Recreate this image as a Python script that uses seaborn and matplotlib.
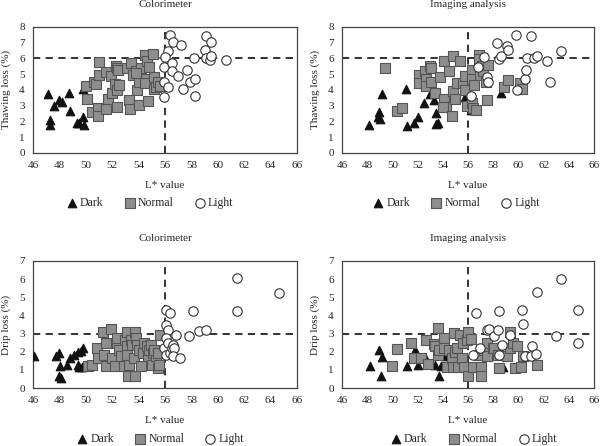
"""
Thawing loss and drip loss against L* value (colorimeter vs imaging analysis).
"""

import matplotlib
matplotlib.use("Agg")
import matplotlib.pyplot as plt
import pandas as pd
import seaborn as sns

sns.set_theme(style="white")
plt.rcParams["font.family"] = ["Liberation Serif", "DejaVu Serif"]

# --- Thawing loss, colorimeter ---
thaw_col_dark_x = [47.1, 47.3, 47.3, 47.6, 48.0, 48.2, 48.7, 48.8, 49.3, 49.5, 49.8, 49.8, 49.9]
thaw_col_dark_y = [3.72, 2.08, 1.77, 2.98, 3.36, 3.2, 3.79, 2.68, 1.87, 1.91, 2.26, 4.04, 1.77]
thaw_col_norm_x = [50.0, 50.1, 50.5, 50.65, 50.9, 50.9, 50.8, 51.0, 51.0, 51.5, 51.55, 51.7, 51.9, 52.0,
                   52.2, 52.3, 52.35, 52.4, 52.45, 52.4, 52.5, 53.1, 53.3, 53.35, 53.4, 53.6, 53.8, 53.85,
                   54.0, 54.0, 54.2, 54.5, 54.5, 54.5, 54.6, 54.7, 54.75, 55.1, 55.15, 55.2, 55.3, 55.45,
                   55.6, 53.8]
thaw_col_norm_y = [4.26, 3.43, 2.62, 4.53, 2.83, 2.34, 4.38, 4.94, 5.79, 2.79, 5.11, 3.40, 4.89, 3.79,
                   4.38, 5.53, 5.36, 2.94, 5.23, 4.0, 4.32, 5.36, 3.36, 2.79, 5.70, 4.96, 5.21, 4.0,
                   3.02, 4.47, 5.38, 6.23, 4.72, 4.43, 5.85, 3.28, 5.47, 6.30, 4.04, 4.79, 4.17, 4.53,
                   4.26, 5.06]
thaw_col_light_x = [56.4, 56.6, 57.2, 56.2, 56.0, 55.9, 56.5, 56.5, 57.0, 57.65, 55.9, 56.2, 57.4,
                    57.9, 58.3, 58.3, 55.9, 58.2, 59.1, 59.5, 59.0, 59.1, 59.4, 59.5, 60.65]
thaw_col_light_y = [7.45, 7.02, 6.83, 6.45, 6.09, 5.43, 5.70, 5.21, 4.85, 5.28, 4.53, 4.21, 4.04,
                    4.47, 4.70, 3.64, 3.57, 6.02, 7.40, 7.02, 6.51, 6.02, 5.91, 6.17, 5.87]

# --- Thawing loss, imaging analysis ---
thaw_img_dark_x = [48.11, 48.85, 48.96, 49.03, 49.17, 51.09, 51.15, 51.75, 52.07, 52.54, 52.99, 53.31,
                   53.47, 53.47, 53.65, 55.76, 56.21, 58.61]
thaw_img_dark_y = [1.77, 2.30, 2.62, 2.15, 3.72, 4.04, 1.70, 1.87, 2.26, 3.15, 3.72, 3.36,
                   2.51, 1.81, 1.87, 3.57, 2.72, 3.83]
thaw_img_norm_x = [49.4, 50.35, 50.8, 52.1, 52.1, 52.6, 52.7, 52.7, 53.0, 53.07, 53.1, 53.4, 53.8, 54.1,
                   54.1, 54.25, 54.0, 54.5, 54.7, 54.8, 54.84, 55.0, 55.1, 55.4, 55.6, 55.8, 55.8, 55.9,
                   56.3, 56.3, 56.3, 56.4, 56.5, 56.6, 56.9, 56.9, 56.95, 57.1, 57.2, 57.4, 57.5, 57.6,
                   58.85, 59.2, 60.1, 60.3]
thaw_img_norm_y = [5.38, 2.66, 2.83, 4.96, 4.43, 5.17, 4.68, 4.26, 5.49, 5.38, 4.47, 3.79, 4.81, 5.81,
                   3.43, 2.94, 2.94, 5.17, 2.34, 3.96, 6.17, 3.43, 4.43, 5.81, 4.43, 4.89, 4.0, 2.98,
                   3.19, 5.28, 4.70, 2.83, 4.32, 2.72, 6.23, 5.96, 4.96, 5.53, 5.21, 4.47, 3.36, 5.6,
                   4.21, 4.64, 4.43, 4.04]
thaw_img_light_x = [56.8, 57.3, 57.5, 57.6, 56.2, 58.3, 58.5, 58.6, 59.1, 59.2, 59.8, 59.9, 60.5,
                    60.6, 60.7, 61.0, 61.2, 61.5, 62.3, 62.5, 63.4]
thaw_img_light_y = [5.43, 6.09, 4.81, 4.53, 3.62, 6.98, 5.96, 6.13, 6.81, 6.55, 7.45, 4.0, 4.68,
                    5.23, 6.02, 7.40, 6.02, 6.13, 5.85, 4.47, 6.45]

# --- Drip loss, colorimeter ---
drip_col_dark_x = [46.05, 47.77, 47.95, 48.03, 47.95, 48.1, 48.6, 48.8, 49.12, 49.38, 49.77, 49.64,
                   49.38, 49.5, 49.69]
drip_col_dark_y = [1.76, 1.76, 1.94, 1.21, 0.66, 0.55, 1.26, 1.67, 1.81, 1.98, 2.18, 2.03,
                   1.26, 1.17, 1.15]
drip_col_norm_x = [50.2, 50.5, 50.86, 50.9, 51.3, 51.5, 51.5, 51.4, 51.9, 52.0, 52.2, 52.4, 52.4, 52.5,
                   52.7, 52.9, 53.0, 53.1, 53.1, 53.2, 53.1, 53.3, 53.4, 53.5, 53.66, 53.7, 53.7, 53.8,
                   53.9, 54.05, 54.2, 54.3, 54.4, 54.6, 54.7, 54.8, 54.96, 55.0, 55.1, 55.35, 55.5,
                   55.6, 55.56, 55.2, 55.5]
drip_col_norm_y = [1.19, 1.25, 2.20, 1.65, 3.08, 2.47, 1.19, 1.83, 3.26, 1.68, 1.19, 2.47, 2.75, 2.11,
                   1.74, 1.19, 2.66, 2.29, 1.83, 0.64, 3.11, 1.28, 2.66, 2.38, 1.65, 0.64, 3.08, 2.78,
                   2.38, 2.11, 1.19, 1.92, 2.47, 2.29, 1.74, 2.11, 2.38, 1.28, 1.92, 1.74, 1.10,
                   2.93, 1.28, 2.11, 1.92]
drip_col_light_x = [56.1, 56.4, 56.05, 56.2, 56.1, 56.8, 55.95, 56.1, 56.26, 56.4, 56.5, 56.6, 56.7,
                    56.6, 57.1, 57.8, 58.1, 58.6, 59.1, 61.45, 61.45, 64.6]
drip_col_light_y = [4.30, 4.12, 3.48, 3.21, 2.75, 2.93, 2.23, 1.83, 2.47, 1.92, 2.20, 2.38, 2.23,
                    1.74, 1.65, 2.84, 4.25, 3.15, 3.21, 6.04, 4.25, 5.26]

# --- Drip loss, imaging analysis ---
drip_img_dark_x = [48.93, 49.19, 48.22, 49.09, 51.78, 52.62, 52.04, 51.12, 53.36, 53.89, 53.7, 54.15,
                   54.28, 58.8]
drip_img_dark_y = [2.07, 1.70, 1.21, 0.66, 2.12, 1.70, 1.26, 1.21, 1.26, 1.21, 0.66, 1.81,
                   1.76, 1.14]
drip_img_norm_x = [50.35, 50.0, 51.5, 51.7, 52.25, 52.7, 52.8, 53.3, 53.4, 53.65, 53.65, 53.7, 54.1,
                   54.1, 54.3, 54.5, 54.7, 54.8, 54.9, 55.0, 55.1, 55.2, 55.4, 55.5, 55.6, 55.7, 55.9,
                   55.97, 56.0, 56.2, 56.4, 57.0, 57.0, 56.9, 57.3, 57.5, 57.5, 57.95, 58.1, 58.4,
                   58.45, 59.1, 59.3, 59.3, 59.6, 59.7, 59.9, 60.2, 60.4, 61.5]
drip_img_norm_y = [2.16, 1.19, 2.47, 1.65, 1.68, 2.66, 1.32, 2.42, 2.34, 3.30, 1.83, 2.11, 2.78,
                   2.23, 1.14, 2.11, 1.65, 1.14, 3.02, 1.98, 2.23, 1.14, 2.93, 1.68, 2.47, 1.14, 2.66,
                   3.08, 0.64, 2.72, 1.14, 1.14, 0.64, 1.83, 2.11, 2.47, 1.74, 2.20, 2.23, 1.83,
                   1.10, 1.74, 3.08, 2.20, 2.47, 1.10, 2.29, 1.14, 1.74, 1.28]
drip_img_light_x = [56.6, 56.4, 56.95, 57.5, 57.7, 58.1, 58.4, 58.5, 58.5, 58.7, 59.3, 60.3, 60.4,
                    60.5, 61.0, 61.1, 61.4, 61.5, 63.4, 62.97, 64.7, 64.7]
drip_img_light_y = [4.12, 1.83, 2.23, 3.21, 3.26, 2.89, 3.21, 4.25, 1.83, 2.38, 2.93, 4.30, 3.52,
                    1.74, 1.74, 2.29, 1.87, 5.31, 6.01, 2.84, 4.30, 2.47]

GROUPS = ["Dark", "Normal", "Light"]
x_ticks = list(range(46, 67, 2))

# marker, face colour, edge colour, size
GROUP_STYLE = {
    "Dark": ("^", "#111111", "#111111", 38),
    "Normal": ("s", "#8e8e8e", "#555555", 42),
    "Light": ("o", "white", "#333333", 46),
}


def build_frame(dark, normal, light):
    rows = []
    for grp, (xs, ys) in zip(GROUPS, [dark, normal, light]):
        for x, y in zip(xs, ys):
            rows.append({"L": x, "loss": y, "group": grp})
    return pd.DataFrame(rows)


def draw_panel(fig, rect, df, title, ylabel, ymax, yline, legend_x):
    ax = fig.add_axes(rect)
    ax.axvline(56, color="#222222", ls=(0, (4, 3)), lw=1.3, zorder=1)
    ax.axhline(yline, color="#222222", ls=(0, (4, 3)), lw=1.3, zorder=1)
    for grp in GROUPS:
        marker, fc, ec, size = GROUP_STYLE[grp]
        sns.scatterplot(data=df[df["group"] == grp], x="L", y="loss", marker=marker,
                        color=fc, edgecolor=ec, linewidth=0.8, s=size, ax=ax,
                        label=grp, zorder=3)
    ax.set_xlim(46, 66)
    ax.set_ylim(0, ymax)
    ax.set_xticks(x_ticks)
    ax.set_yticks(range(0, ymax + 1))
    ax.tick_params(length=0, labelsize=8, pad=6)
    for sp in ax.spines.values():
        sp.set_color("#444444")
        sp.set_linewidth(0.9)
    ax.set_title(title, fontsize=8, pad=14)
    ax.set_xlabel("L* value", fontsize=8, labelpad=8)
    ax.set_ylabel(ylabel, fontsize=8, labelpad=6)
    ax.legend(loc="center", bbox_to_anchor=(legend_x, -0.40), ncol=3, frameon=False,
              fontsize=8.5, handletextpad=0.1, columnspacing=1.6, borderaxespad=0,
              handlelength=1.2)
    return ax


fig = plt.figure(figsize=(6.0, 4.46), dpi=100)

draw_panel(fig, [0.055, 0.657, 0.44, 0.283],
           build_frame((thaw_col_dark_x, thaw_col_dark_y), (thaw_col_norm_x, thaw_col_norm_y),
                       (thaw_col_light_x, thaw_col_light_y)),
           "Colorimeter", "Thawing loss (%)", 8, 6, 0.44)
draw_panel(fig, [0.57, 0.657, 0.42, 0.283],
           build_frame((thaw_img_dark_x, thaw_img_dark_y), (thaw_img_norm_x, thaw_img_norm_y),
                       (thaw_img_light_x, thaw_img_light_y)),
           "Imaging analysis", "Thawing loss (%)", 8, 6, 0.45)
draw_panel(fig, [0.055, 0.130, 0.44, 0.285],
           build_frame((drip_col_dark_x, drip_col_dark_y), (drip_col_norm_x, drip_col_norm_y),
                       (drip_col_light_x, drip_col_light_y)),
           "Colorimeter", "Drip loss (%)", 7, 3, 0.48)
draw_panel(fig, [0.57, 0.130, 0.42, 0.285],
           build_frame((drip_img_dark_x, drip_img_dark_y), (drip_img_norm_x, drip_img_norm_y),
                       (drip_img_light_x, drip_img_light_y)),
           "Imaging analysis", "Drip loss (%)", 7, 3, 0.52)

fig.savefig("out.png", dpi=100)
